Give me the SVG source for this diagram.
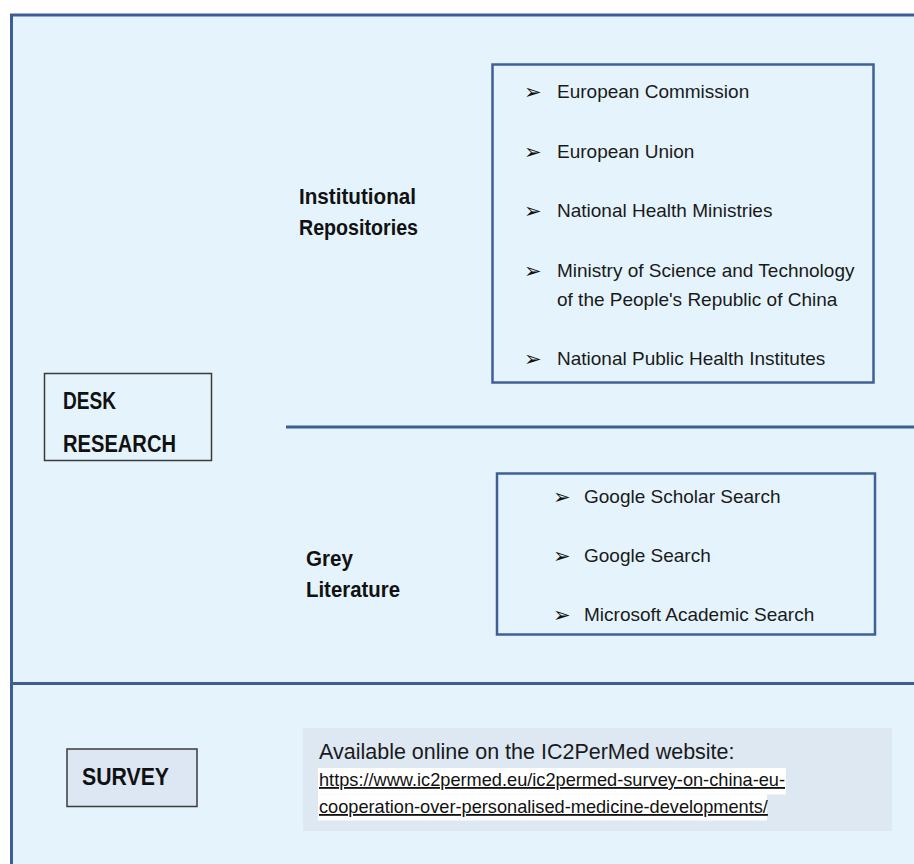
<svg xmlns="http://www.w3.org/2000/svg" width="914" height="864" viewBox="0 0 914 864">
  <style>
    .frame { fill: #E5F4FC; stroke: #3D5D95; stroke-width: 3; }
    .divider { stroke: #3D5D95; stroke-width: 3; fill: none; }
    .listbox { fill: none; stroke: #3F5F96; stroke-width: 2.5; }
    .labelbox { fill: #E5F4FC; stroke: #3A3A3A; stroke-width: 1.5; }
    .surveybox { fill: #DCE7F3; stroke: #3A3A3A; stroke-width: 1.5; }
    .label { font-family: "Liberation Sans", Arial, sans-serif; font-weight: bold; fill: #111; }
    .item { font-family: "Liberation Sans", Arial, sans-serif; font-size: 19px; fill: #1A1A1A; }
    .bullet { font-family: "DejaVu Sans", sans-serif; font-size: 21px; fill: #111; }
    .info { font-family: "Liberation Sans", Arial, sans-serif; fill: #1A1A1A; }
    .url { font-family: "Liberation Sans", Arial, sans-serif; font-size: 18.2px; fill: #111; text-decoration: underline; }
  </style>
  <rect width="914" height="864" fill="#FFFFFF"/>
  <g id="frame">
    <rect class="frame" x="11.5" y="15" width="920" height="870"/>
  </g>
  <g id="connectors">
    <line class="divider" x1="286" y1="427" x2="914" y2="427"/>
    <line class="divider" x1="11" y1="683.5" x2="914" y2="683.5"/>
  </g>
  <g id="desk-research">
    <rect class="labelbox" x="44.5" y="373.5" width="167" height="87"/>
    <text class="label" x="63" y="409" font-size="23" textLength="53" lengthAdjust="spacingAndGlyphs">DESK</text>
    <text class="label" x="63" y="452" font-size="23" textLength="113" lengthAdjust="spacingAndGlyphs">RESEARCH</text>
  </g>
  <g id="institutional-repositories">
    <text class="label" x="299" y="204" font-size="22" textLength="117" lengthAdjust="spacingAndGlyphs">Institutional</text>
    <text class="label" x="299" y="235" font-size="22" textLength="119" lengthAdjust="spacingAndGlyphs">Repositories</text>
  </g>
  <g id="institutional-list">
    <rect class="listbox" x="492.5" y="64.5" width="381" height="318"/>
    <text class="bullet" x="524" y="99">➢</text>
    <text class="item" x="557" y="98">European Commission</text>
    <text class="bullet" x="524" y="159">➢</text>
    <text class="item" x="557" y="158">European Union</text>
    <text class="bullet" x="524" y="218">➢</text>
    <text class="item" x="557" y="217">National Health Ministries</text>
    <text class="bullet" x="524" y="278">➢</text>
    <text class="item" x="557" y="277">Ministry of Science and Technology</text>
    <text class="item" x="557" y="306">of the People's Republic of China</text>
    <text class="bullet" x="524" y="366">➢</text>
    <text class="item" x="557" y="365">National Public Health Institutes</text>
  </g>
  <g id="grey-literature">
    <text class="label" x="306" y="566" font-size="22" textLength="47" lengthAdjust="spacingAndGlyphs">Grey</text>
    <text class="label" x="306" y="597" font-size="22" textLength="94" lengthAdjust="spacingAndGlyphs">Literature</text>
  </g>
  <g id="grey-list">
    <rect class="listbox" x="497" y="473.5" width="378" height="161"/>
    <text class="bullet" x="553" y="504">➢</text>
    <text class="item" x="584" y="503">Google Scholar Search</text>
    <text class="bullet" x="553" y="563">➢</text>
    <text class="item" x="584" y="562">Google Search</text>
    <text class="bullet" x="553" y="622">➢</text>
    <text class="item" x="584" y="621">Microsoft Academic Search</text>
  </g>
  <g id="survey">
    <rect class="surveybox" x="67" y="749" width="130" height="57.5"/>
    <text class="label" x="82" y="784.5" font-size="24" textLength="87" lengthAdjust="spacingAndGlyphs">SURVEY</text>
  </g>
  <g id="survey-info">
    <rect x="303" y="728" width="589" height="103" fill="#DDE8F3"/>
    <rect x="318" y="768" width="468" height="26.5" fill="#FFFFFF"/>
    <rect x="318" y="794.5" width="449" height="26" fill="#FFFFFF"/>
    <text class="info" x="319" y="759" font-size="21.5">Available online on the IC2PerMed website:</text>
    <text class="url" x="319" y="786">https://www.ic2permed.eu/ic2permed-survey-on-china-eu-</text>
    <text class="url" x="319" y="813">cooperation-over-personalised-medicine-developments/</text>
  </g>
</svg>
